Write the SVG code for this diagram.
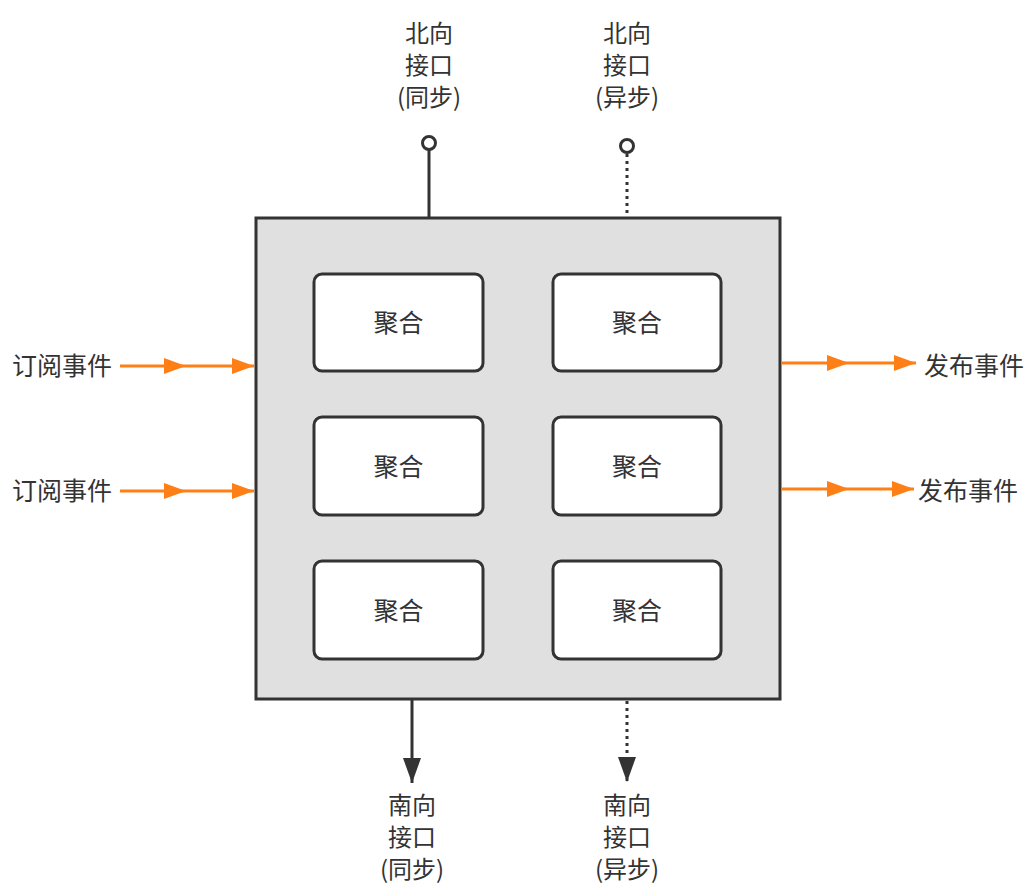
<svg xmlns="http://www.w3.org/2000/svg" width="1036" height="891" viewBox="0 0 1036 891">
<defs>
<style>
.t{font-family:"Noto Sans CJK SC","Noto Sans",sans-serif;font-size:24px;fill:#333;text-anchor:middle;dominant-baseline:central}
.w{font-size:25px}
.box{fill:#fff;stroke:#333;stroke-width:3}
.or{stroke:#ff7f17;stroke-width:3;fill:none}
.dk{stroke:#333;stroke-width:3;fill:none}
.dot{stroke:#333;stroke-width:3;fill:none;stroke-dasharray:3 4}
</style>
<marker id="oa" viewBox="0 0 22 16" refX="22" refY="8" markerWidth="22" markerHeight="16" markerUnits="userSpaceOnUse" orient="auto"><path d="M0,0 L22,8 L0,16 Z" fill="#ff7f17"/></marker>
<marker id="da" viewBox="0 0 25 18" refX="25" refY="9" markerWidth="25" markerHeight="18" markerUnits="userSpaceOnUse" orient="auto"><path d="M0,0 L25,9 L0,18 Z" fill="#333"/></marker>
</defs>
<g id="container"><rect x="256" y="218" width="524" height="481" fill="#e0e0e0" stroke="#333" stroke-width="3"/></g>
<g id="agg1"><rect class="box" x="314" y="274" width="169" height="97" rx="8"/><text class="t w" x="398.5" y="321">聚合</text></g>
<g id="agg2"><rect class="box" x="553" y="274" width="168" height="97" rx="8"/><text class="t w" x="637" y="321">聚合</text></g>
<g id="agg3"><rect class="box" x="314" y="417" width="169" height="98" rx="8"/><text class="t w" x="398.5" y="464.5">聚合</text></g>
<g id="agg4"><rect class="box" x="553" y="417" width="168" height="98" rx="8"/><text class="t w" x="637" y="464.5">聚合</text></g>
<g id="agg5"><rect class="box" x="314" y="561" width="169" height="98" rx="8"/><text class="t w" x="398.5" y="608.5">聚合</text></g>
<g id="agg6"><rect class="box" x="553" y="561" width="168" height="98" rx="8"/><text class="t w" x="637" y="608.5">聚合</text></g>
<g id="labels">
<text class="t" x="429" y="31"><tspan x="429" y="31">北向</tspan><tspan x="429" y="63">接口</tspan><tspan x="429" y="95">(同步)</tspan></text>
<text class="t" x="627" y="31"><tspan x="627" y="31">北向</tspan><tspan x="627" y="63">接口</tspan><tspan x="627" y="95">(异步)</tspan></text>
<text class="t" x="412" y="803"><tspan x="412" y="803">南向</tspan><tspan x="412" y="835">接口</tspan><tspan x="412" y="867">(同步)</tspan></text>
<text class="t" x="627" y="803"><tspan x="627" y="803">南向</tspan><tspan x="627" y="835">接口</tspan><tspan x="627" y="867">(异步)</tspan></text>
<text class="t w" x="62" y="364">订阅事件</text><text class="t w" x="62" y="489">订阅事件</text>
<text class="t w" x="974" y="364">发布事件</text><text class="t w" x="968" y="489">发布事件</text>
</g>
<g id="connectors">
<line class="dk" x1="429" y1="150" x2="429" y2="218"/><circle cx="429" cy="143" r="6.5" fill="#fff" stroke="#333" stroke-width="3"/>
<line class="dot" x1="627" y1="154" x2="627" y2="218"/><circle cx="627" cy="146" r="6.5" fill="#fff" stroke="#333" stroke-width="3"/>
<line class="dk" x1="412" y1="699" x2="412" y2="783" marker-end="url(#da)"/>
<line class="dot" x1="627" y1="701" x2="627" y2="782" marker-end="url(#da)"/>
<path class="or" d="M120,366 L186,366" marker-end="url(#oa)"/><path class="or" d="M186,366 L254,366" marker-end="url(#oa)"/>
<path class="or" d="M120,491 L186,491" marker-end="url(#oa)"/><path class="or" d="M186,491 L254,491" marker-end="url(#oa)"/>
<path class="or" d="M781,363 L849,363" marker-end="url(#oa)"/><path class="or" d="M849,363 L916,363" marker-end="url(#oa)"/>
<path class="or" d="M781,489 L849,489" marker-end="url(#oa)"/><path class="or" d="M849,489 L914,489" marker-end="url(#oa)"/>
</g>
</svg>
